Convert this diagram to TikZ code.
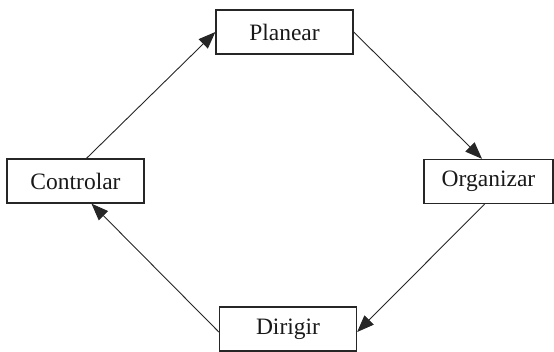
\documentclass[tikz,border=0pt]{standalone}
\usepackage{fontspec}
\setmainfont{Liberation Serif}
\usetikzlibrary{arrows.meta}
\begin{document}
\begin{tikzpicture}[x=1pt,y=-1pt,
  box/.style={draw=black!85, line width=1.3pt, minimum width=137pt, minimum height=44pt, inner sep=0pt, text=black!90, font=\fontsize{23.5}{28}\selectfont},
  conn/.style={draw=black!85, line width=0.9pt, -{Triangle[length=17pt,width=13pt]}}]
\useasboundingbox (0,0) rectangle (554,352);
\node[box] (P) at (284.5,32) {Planear};
\node[box] (C) at (75.5,181) {Controlar};
\node[box, minimum width=129pt] (O) at (488.5,181.5) {Organizar};
\node[box] (D) at (288,329) {Dirigir};
\draw[conn] ([xshift=11pt]C.north) -- (P.west);
\draw[conn] (P.east) -- ([xshift=-6.5pt]O.north);
\draw[conn] ([xshift=-4pt]O.south) -- ([yshift=-3pt]D.east);
\draw[conn] ([yshift=-3pt]D.west) -- ([xshift=16pt]C.south);
\end{tikzpicture}
\end{document}
